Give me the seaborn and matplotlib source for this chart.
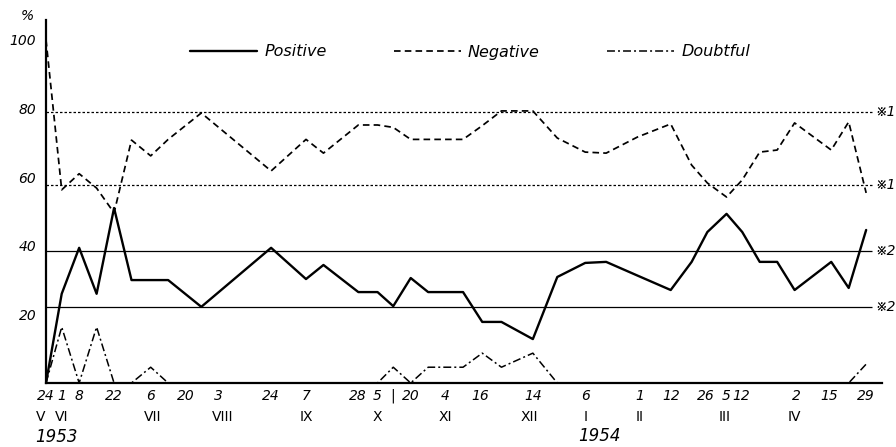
import matplotlib
matplotlib.use("Agg")
import matplotlib.pyplot as plt
import seaborn as sns
import pandas as pd

# ---- data -------------------------------------------------------------
# sampling positions on the (roughly weekly) time axis, in weeks after 24 V 1953
weeks = [0, 0.9, 1.9, 2.9, 3.9, 4.9, 6, 7, 8.9, 12.9, 14.9, 15.9, 17.9, 19.0,
         19.9, 20.9, 21.9, 23.9, 25.0, 26.1, 27.9, 29.3, 30.9, 32.1, 33.9,
         35.8, 37.0, 37.9, 39.0, 39.9, 40.9, 41.9, 42.9, 45.0, 46.0, 47.0]
positive = [0, 26, 39.4, 26, 51, 30, 30, 30, 22.2, 39.4, 30.3, 34.4, 26.5, 26.5,
            22.4, 30.6, 26.5, 26.5, 17.8, 17.8, 12.8, 30.9, 35, 35.3, 31.3,
            27.1, 35.3, 44, 49.3, 44, 35.3, 35.3, 27.1, 35.3, 27.7, 44.6]
negative = [100, 56.3, 61, 56.8, 49.6, 70.8, 66.2, 71, 78.7, 61.8, 71, 67, 75.2,
            75.2, 74.5, 71, 71, 71, 75, 79.3, 79.3, 71.4, 67.3, 67, 71.7,
            75.5, 63.5, 58.3, 54.2, 59.2, 67.3, 67.9, 75.8, 67.9, 76.1, 55.4]
doubtful = [0, 16.3, 0, 16.3, 0, 0, 4.6, 0, 0, 0, 0, 0, 0, 0,
            4.6, 0, 4.6, 4.6, 8.7, 4.6, 8.7, 0, 0, 0, 0,
            0, 0, 0, 0, 0, 0, 0, 0, 0, 0, 5.5]
series_names = ["Positive", "Negative", "Doubtful"]

# reference levels marked at the right edge
ref_levels = [79, 57.8, 38.5, 22.2]
ref_labels = ["※1", "※1", "※2", "※2"]

# axis ticks / labels
y_major = [20, 40, 60, 80, 100]
y_minor = [10, 30, 50, 70, 90]
x_all_ticks = [0.9, 1.9, 2.9, 3.9, 4.9, 6, 7, 8, 8.9, 9.9, 10.95, 12, 12.9, 13.9,
               14.9, 15.9, 17.9, 19, 19.9, 21, 21.9, 22.9, 23.95, 25, 26.1, 27.9,
               29.3, 30.9, 32.1, 34, 35.8, 37, 37.9, 39, 40, 41, 41.9, 42.9, 45,
               46, 47]
x_month_ticks = [0.9, 6, 9.9, 14.9, 19, 22.9, 27.9, 30.9, 34, 39, 42.9]
day_pos = [0, 0.9, 1.9, 3.9, 6, 8, 9.9, 12.9, 14.9, 17.85, 19.0, 19.85, 20.9,
           22.9, 24.9, 27.9, 30.9, 34, 35.8, 37.8, 38.95, 39.85, 43, 44.9, 47]
day_labels = ["24", "1", "8", "22", "6", "20", "3", "24", "7", "28", "5", "|",
              "20", "4", "16", "14", "6", "1", "12", "26", "5", "12", "2", "15",
              "29"]
month_pos = [-0.3, 0.9, 6.1, 10.1, 14.9, 19.0, 22.9, 27.7, 30.9, 34, 38.9, 42.9]
month_labels = ["V", "VI", "VII", "VIII", "IX", "X", "XI", "XII", "I", "II",
                "III", "IV"]
year_pos = [0.6, 31.7]
year_labels = ["1953", "1954"]

# ---- figure ------------------------------------------------------------
sns.set_style("white")
plt.rcParams["font.family"] = ["DejaVu Sans", "Noto Sans CJK JP"]
plt.rcParams["text.color"] = "black"
plt.rcParams["xtick.color"] = "black"
plt.rcParams["ytick.color"] = "black"
plt.rcParams["axes.labelcolor"] = "black"

W, H = 896, 447
fig = plt.figure(figsize=(W / 100, H / 100), dpi=100)
ax = fig.add_axes([46 / W, (H - 383) / H, (882 - 46) / W, (383 - 20) / H])

n = len(weeks)
df = pd.DataFrame({
    "week": weeks * 3,
    "value": positive + negative + doubtful,
    "series": [series_names[0]] * n + [series_names[1]] * n + [series_names[2]] * n,
})

sns.lineplot(
    data=df, x="week", y="value", hue="series", style="series", size="series",
    hue_order=series_names, style_order=series_names, size_order=series_names,
    palette={"Positive": "black", "Negative": "black", "Doubtful": "black"},
    dashes={"Positive": "", "Negative": (3.8, 2.4), "Doubtful": (5.2, 2, 1.3, 2)},
    sizes={"Positive": 1.7, "Negative": 1.25, "Doubtful": 1.1},
    ax=ax, legend="full", zorder=2,
)

# reference lines
for lvl, lab, ls in zip(ref_levels, ref_labels, [(0, (2, 1.6)), (0, (2, 1.6)), "-", "-"]):
    ax.hlines(lvl, 0, 47.35, colors="black", linewidth=0.9, linestyles=ls, zorder=1)
    ax.text(47.55, lvl, lab, ha="left", va="center", fontsize=10, style="italic")

ax.set_xlim(0, (882 - 46) / 17.45)
ax.set_ylim(0, 105.8)

# spines
for side in ["top", "right"]:
    ax.spines[side].set_visible(False)
for side in ["left", "bottom"]:
    ax.spines[side].set_linewidth(1.6)
    ax.spines[side].set_color("black")
    ax.spines[side].set_zorder(3)

# y axis
ax.set_yticks(y_major)
ax.set_yticklabels([str(v) for v in y_major])
ax.set_yticks(y_minor, minor=True)
ax.tick_params(axis="y", which="major", direction="in", length=8.6, width=1.1,
               pad=7, labelsize=10, colors="black")
ax.tick_params(axis="y", which="minor", direction="in", length=5, width=1.1)
for t in ax.get_yticklabels():
    t.set_fontstyle("italic")

# x axis
ax.set_xticks(x_month_ticks)
ax.set_xticks(x_all_ticks, minor=True)
ax.tick_params(axis="x", which="major", direction="in", length=8.6, width=1.1,
               labelbottom=False)
ax.tick_params(axis="x", which="minor", direction="in", length=5, width=1.1)
ax.set_xlabel("")
ax.set_ylabel("")

tr = ax.get_xaxis_transform()
for p, l in zip(day_pos, day_labels):
    ax.text(p, -0.036, l, transform=tr, ha="center", va="center", fontsize=10,
            style="italic")
for p, l in zip(month_pos, month_labels):
    ax.text(p, -0.095, l, transform=tr, ha="center", va="center", fontsize=10,
            family=["Liberation Sans Narrow", "DejaVu Sans"])
ax.text(year_pos[0], -0.150, year_labels[0], transform=tr, ha="center",
        va="center", fontsize=12, style="italic")
ax.text(year_pos[1], -0.146, year_labels[1], transform=tr, ha="center",
        va="center", fontsize=12, style="italic")

fig.text(27 / W, 1 - 16 / H, "%", ha="center", va="center", fontsize=10,
         style="italic")

# legend
sns.move_legend(ax, "center", bbox_to_anchor=(470 / W, 1 - 52 / H),
                bbox_transform=fig.transFigure, ncol=3, frameon=False,
                title=None, handlelength=4.2, handletextpad=0.45,
                columnspacing=4.2, prop={"size": 11.5, "style": "italic"})

fig.savefig("out.png", dpi=100, facecolor="white")
